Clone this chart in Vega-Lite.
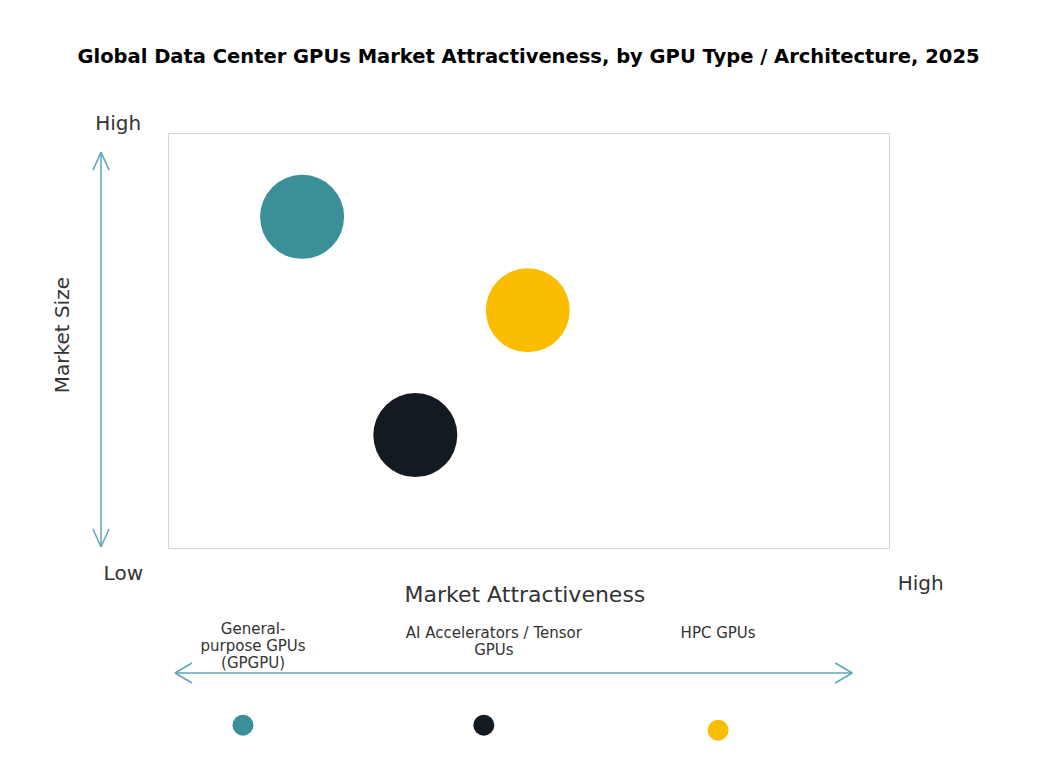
{
  "$schema": "https://vega.github.io/schema/vega-lite/v6.json",
  "autosize": {"type": "none"},
  "width": 721,
  "height": 415,
  "padding": {"left": 168, "top": 133, "right": 168, "bottom": 229},
  "background": "white",
  "config": {
    "view": {"stroke": "#d4d4d4", "strokeWidth": 1},
    "font": "DejaVu Sans"
  },
  "title": {
    "text": "Global Data Center GPUs Market Attractiveness,  by GPU Type / Architecture, 2025",
    "font": "DejaVu Sans",
    "fontWeight": "bold",
    "fontSize": 19.5,
    "color": "#000000",
    "anchor": "middle",
    "offset": 46
  },
  "datasets": {
    "bubbles": [
      {"type": "General-purpose GPUs (GPGPU)", "attractiveness": 1.86, "size": 7.98},
      {"type": "AI Accelerators / Tensor GPUs", "attractiveness": 3.43, "size": 2.72},
      {"type": "HPC GPUs", "attractiveness": 4.99, "size": 5.73}
    ],
    "legend": [
      {"type": "General-purpose GPUs (GPGPU)", "label": "General-\npurpose GPUs\n(GPGPU)", "lx": 1.18, "ly": -1.78, "dx": 1.04, "dy": -4.27},
      {"type": "AI Accelerators / Tensor GPUs", "label": "AI Accelerators / Tensor\nGPUs", "lx": 4.52, "ly": -1.87, "dx": 4.38, "dy": -4.27},
      {"type": "HPC GPUs", "label": "HPC GPUs", "lx": 7.63, "ly": -1.87, "dx": 7.63, "dy": -4.39}
    ],
    "arrows": [
      {"x": -0.929, "y": 9.54, "x2": -0.929, "y2": 0.024},
      {"x": -0.929, "y": 9.54, "x2": -1.04, "y2": 9.106},
      {"x": -0.929, "y": 9.54, "x2": -0.818, "y2": 9.106},
      {"x": -0.929, "y": 0.024, "x2": -1.04, "y2": 0.458},
      {"x": -0.929, "y": 0.024, "x2": -0.818, "y2": 0.458},
      {"x": 0.097, "y": -3.012, "x2": 9.49, "y2": -3.012},
      {"x": 0.097, "y": -3.012, "x2": 0.333, "y2": -2.771},
      {"x": 0.097, "y": -3.012, "x2": 0.333, "y2": -3.253},
      {"x": 9.49, "y": -3.012, "x2": 9.254, "y2": -2.771},
      {"x": 9.49, "y": -3.012, "x2": 9.254, "y2": -3.253}
    ],
    "ends": [
      {"text": "High", "x": -0.69, "y": 10.22},
      {"text": "Low", "x": -0.62, "y": -0.63},
      {"text": "High", "x": 10.44, "y": -0.87}
    ],
    "ytitle": [{"text": "Market Size", "x": -1.456, "y": 5.13}],
    "xtitle": [{"text": "Market Attractiveness", "x": 4.95, "y": -1.13}]
  },
  "layer": [
    {
      "data": {"name": "arrows"},
      "mark": {"type": "rule", "color": "#5ba8b8", "strokeWidth": 1.5, "clip": false},
      "encoding": {
        "x": {"field": "x", "type": "quantitative", "scale": {"domain": [0, 10], "nice": false, "zero": false}, "axis": null},
        "y": {"field": "y", "type": "quantitative", "scale": {"domain": [0, 10], "nice": false, "zero": false}, "axis": null},
        "x2": {"field": "x2"},
        "y2": {"field": "y2"}
      }
    },
    {
      "data": {"name": "bubbles"},
      "mark": {"type": "circle", "size": 7056, "opacity": 1, "clip": false},
      "encoding": {
        "x": {"field": "attractiveness", "type": "quantitative", "axis": null},
        "y": {"field": "size", "type": "quantitative", "axis": null},
        "color": {
          "field": "type", "type": "nominal", "legend": null,
          "scale": {
            "domain": ["General-purpose GPUs (GPGPU)", "AI Accelerators / Tensor GPUs", "HPC GPUs"],
            "range": ["#3a8f98", "#141a22", "#fbbd00"]
          }
        }
      }
    },
    {
      "data": {"name": "legend"},
      "mark": {"type": "circle", "size": 440, "opacity": 1, "clip": false},
      "encoding": {
        "x": {"field": "dx", "type": "quantitative", "axis": null},
        "y": {"field": "dy", "type": "quantitative", "axis": null},
        "color": {"field": "type", "type": "nominal", "legend": null}
      }
    },
    {
      "data": {"name": "legend"},
      "mark": {"type": "text", "fontSize": 15, "color": "#333333", "lineBreak": "\n", "baseline": "top", "align": "center", "lineHeight": 17, "clip": false},
      "encoding": {
        "x": {"field": "lx", "type": "quantitative", "axis": null},
        "y": {"field": "ly", "type": "quantitative", "axis": null},
        "text": {"field": "label"}
      }
    },
    {
      "data": {"name": "ends"},
      "mark": {"type": "text", "fontSize": 20, "color": "#333333", "baseline": "middle", "align": "center", "clip": false},
      "encoding": {
        "x": {"field": "x", "type": "quantitative", "axis": null},
        "y": {"field": "y", "type": "quantitative", "axis": null},
        "text": {"field": "text"}
      }
    },
    {
      "data": {"name": "ytitle"},
      "mark": {"type": "text", "fontSize": 20, "color": "#333333", "baseline": "middle", "align": "center", "angle": 270, "clip": false},
      "encoding": {
        "x": {"field": "x", "type": "quantitative", "axis": null},
        "y": {"field": "y", "type": "quantitative", "axis": null},
        "text": {"field": "text"}
      }
    },
    {
      "data": {"name": "xtitle"},
      "mark": {"type": "text", "fontSize": 22, "color": "#333333", "baseline": "middle", "align": "center", "clip": false},
      "encoding": {
        "x": {"field": "x", "type": "quantitative", "axis": null},
        "y": {"field": "y", "type": "quantitative", "axis": null},
        "text": {"field": "text"}
      }
    }
  ]
}
